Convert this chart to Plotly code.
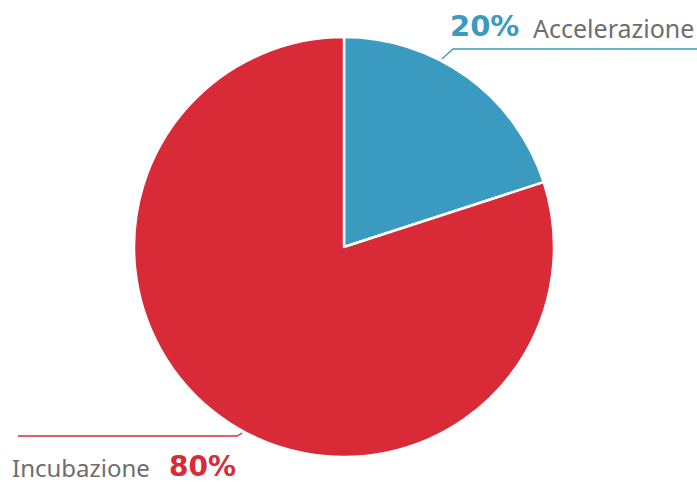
import plotly.graph_objects as go
import math

categories = ["Accelerazione", "Incubazione"]
values = [20, 80]
colors = ["#3a9ac0", "#d92a37"]

W, H = 697, 484
cx, cy, r = 344, 247, 210

fig = go.Figure(go.Pie(
    labels=categories, values=values, sort=False, direction="clockwise", rotation=0,
    marker=dict(colors=colors, line=dict(color="white", width=2.5)),
    textinfo="none", hoverinfo="label+percent", showlegend=False,
    domain=dict(x=[(cx - r) / W, (cx + r) / W], y=[1 - (cy + r) / H, 1 - (cy - r) / H]),
))

def px(x, y):
    return x / W, 1 - y / H

total = sum(values)
rr = 212
anchors = [27.5, 208.7]
shapes = []
a = math.radians(anchors[0])
x0, y0 = cx + rr * math.sin(a), cy - rr * math.cos(a)
p0 = px(x0, y0); p1 = px(453, 49); p2 = px(697, 49)
shapes.append(dict(type="path", xref="paper", yref="paper",
                   path=f"M {p0[0]},{p0[1]} L {p1[0]},{p1[1]} L {p2[0]},{p2[1]}",
                   line=dict(color=colors[0], width=1.3)))
a = math.radians(anchors[1])
x0, y0 = cx + rr * math.sin(a), cy - rr * math.cos(a)
p0 = px(x0, y0); p1 = px(237, 436); p2 = px(18, 436)
shapes.append(dict(type="path", xref="paper", yref="paper",
                   path=f"M {p0[0]},{p0[1]} L {p1[0]},{p1[1]} L {p2[0]},{p2[1]}",
                   line=dict(color=colors[1], width=1.3)))

pct = [f"{round(v / total * 100)}%" for v in values]
ann = [
    dict(x=448 / W, y=1 - 26 / H, xanchor="left", yanchor="middle",
         text=f"<b>{pct[0]}</b>", font=dict(size=29, color=colors[0], family="DejaVu Sans")),
    dict(x=696 / W, y=1 - 28 / H, xanchor="right", yanchor="middle",
         text=categories[0], font=dict(size=25, color="#6e6e6e", family="Noto Sans")),
    dict(x=10 / W, y=1 - 467 / H, xanchor="left", yanchor="middle",
         text=categories[1], font=dict(size=24, color="#6e6e6e", family="Noto Sans")),
    dict(x=238 / W, y=1 - 466 / H, xanchor="right", yanchor="middle",
         text=f"<b>{pct[1]}</b>", font=dict(size=28, color=colors[1], family="DejaVu Sans")),
]
for a_ in ann:
    a_.update(xref="paper", yref="paper", showarrow=False)

fig.update_layout(width=W, height=H, margin=dict(l=0, r=0, t=0, b=0),
                  paper_bgcolor="white", plot_bgcolor="white",
                  shapes=shapes, annotations=ann)
fig.write_html("out.html")
